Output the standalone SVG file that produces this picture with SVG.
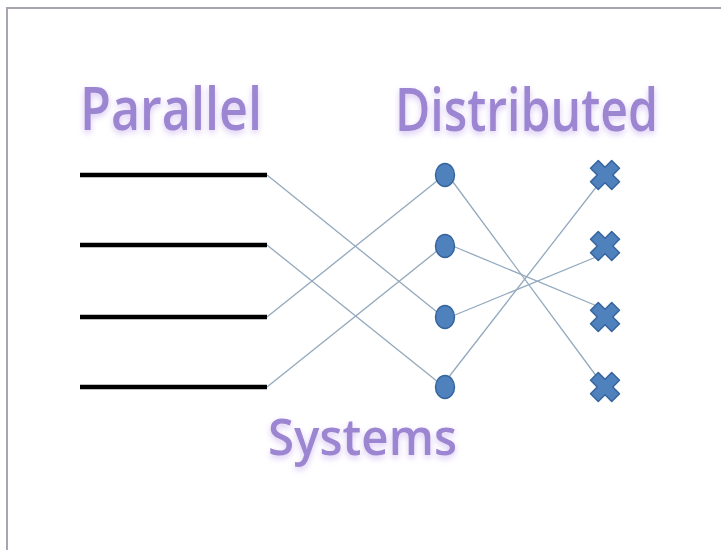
<svg xmlns="http://www.w3.org/2000/svg" width="721" height="550" viewBox="0 0 721 550">
<defs>
<style>
.frame{fill:#ffffff;stroke:#aaa3b0;stroke-width:2}
.bar{stroke:#000;stroke-width:4.5;stroke-linecap:butt}
.conn{stroke:#93a9bd;stroke-width:1.3;fill:none}
.dot{fill:#4f81bd;stroke:#36659e;stroke-width:1.5}
.x{fill:#4f81bd;stroke:#36659e;stroke-width:1.5;stroke-linejoin:round}
.lbl{font-family:"Open Sans","Liberation Sans",sans-serif;font-weight:600;fill:#9c86d2;filter:url(#glow)}
</style>
<filter id="glow" x="-10%" y="-30%" width="120%" height="160%">
<feGaussianBlur in="SourceAlpha" stdDeviation="3" result="b"/>
<feOffset dy="3" in="b" result="o"/>
<feFlood flood-color="#d9c8f5"/>
<feComposite in2="o" operator="in" result="g"/>
<feMerge><feMergeNode in="g"/><feMergeNode in="SourceGraphic"/></feMerge>
</filter>
<polygon id="xs" points="5.5,15 5.5,5.5 15,5.5 15,-5.5 5.5,-5.5 5.5,-15 -5.5,-15 -5.5,-5.5 -15,-5.5 -15,5.5 -5.5,5.5 -5.5,15" transform="rotate(45)"/>
</defs>
<rect x="0" y="0" width="721" height="550" fill="#fff"/>
<rect class="frame" x="7" y="8" width="722" height="550"/>
<g id="labels">
<text class="lbl" x="80" y="130" font-size="60" textLength="182" lengthAdjust="spacingAndGlyphs">Parallel</text>
<text class="lbl" x="395" y="131" font-size="60" textLength="263" lengthAdjust="spacingAndGlyphs">Distributed</text>
<text class="lbl" x="268" y="455" font-size="50" textLength="189" lengthAdjust="spacingAndGlyphs">Systems</text>
</g>
<g id="connectors">
<line class="conn" x1="267" y1="175" x2="437" y2="312"/>
<line class="conn" x1="267" y1="245" x2="438" y2="382"/>
<line class="conn" x1="267" y1="317" x2="437" y2="181"/>
<line class="conn" x1="267" y1="387" x2="437" y2="251"/>
<line class="conn" x1="453" y1="182" x2="597" y2="377"/>
<line class="conn" x1="455" y1="247" x2="597" y2="306"/>
<line class="conn" x1="455" y1="315" x2="596" y2="257"/>
<line class="conn" x1="448" y1="378" x2="597" y2="186"/>
</g>
<g id="bar1"><line class="bar" x1="80" y1="175" x2="267" y2="175"/></g>
<g id="bar2"><line class="bar" x1="80" y1="245" x2="267" y2="245"/></g>
<g id="bar3"><line class="bar" x1="80" y1="317" x2="267" y2="317"/></g>
<g id="bar4"><line class="bar" x1="80" y1="387" x2="267" y2="387"/></g>
<g id="dot1"><ellipse class="dot" cx="445" cy="175" rx="9.5" ry="11.5"/></g>
<g id="dot2"><ellipse class="dot" cx="445" cy="246" rx="9.5" ry="11.5"/></g>
<g id="dot3"><ellipse class="dot" cx="445" cy="317" rx="9.5" ry="11.5"/></g>
<g id="dot4"><ellipse class="dot" cx="445" cy="387" rx="9.5" ry="11.5"/></g>
<g id="cross1" transform="translate(605,175)"><use href="#xs" class="x"/></g>
<g id="cross2" transform="translate(605,246)"><use href="#xs" class="x"/></g>
<g id="cross3" transform="translate(605,317)"><use href="#xs" class="x"/></g>
<g id="cross4" transform="translate(605,387)"><use href="#xs" class="x"/></g>
</svg>
